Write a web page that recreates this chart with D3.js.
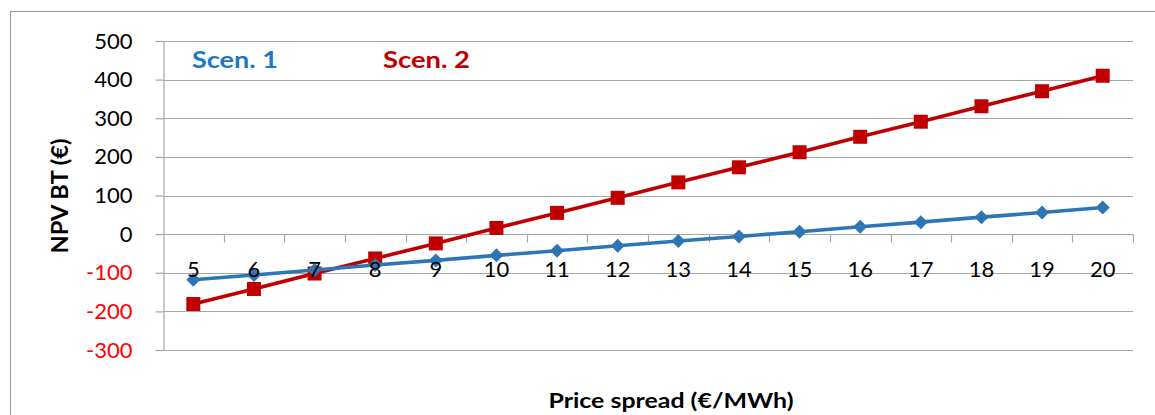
<!DOCTYPE html>
<html>
<head>
<meta charset="utf-8">
<script src="https://cdn.jsdelivr.net/npm/d3@7"></script>
<style>
  html, body { margin: 0; padding: 0; background: #fff; }
  svg { display: block; }
  text { font-family: Lato, "Open Sans", sans-serif; }
</style>
</head>
<body>
<svg id="chart" width="1155" height="415"></svg>
<script>
const categories = [5, 6, 7, 8, 9, 10, 11, 12, 13, 14, 15, 16, 17, 18, 19, 20];
const scen1 = [-118, -106, -93, -80, -68, -55, -43, -30, -18, -6, 6, 19, 31, 44, 56, 69];
const scen2 = [-181, -142, -102, -63, -24, 16, 55, 94, 134, 173, 212, 252, 291, 331, 370, 410];
const yTicks = [-300, -200, -100, 0, 100, 200, 300, 400, 500];
const seriesNames = ["Scen. 1", "Scen. 2"];
const xTitle = "Price spread (€/MWh)";
const yTitle = "NPV BT (€)";

const svg = d3.select("#chart");
const plotLeft = 163, plotRight = 1133, plotTop = 41, plotBottom = 350;
const grid = "#a6a6a6";

const x = d3.scaleBand().domain(categories).range([plotLeft, plotRight]).padding(0);
const y = d3.scaleLinear().domain([-300, 500]).range([plotBottom, plotTop]);
const cx = d => x(d) + x.bandwidth() / 2;

// outer chart border (top + left visible)
svg.append("rect").attr("x", 10.5).attr("y", 11.5).attr("width", 2000).attr("height", 1000)
  .attr("fill", "none").attr("stroke", "#a0a0a0").attr("stroke-width", 1.2);

// gridlines
svg.append("g").selectAll("line").data(yTicks).join("line")
  .attr("x1", plotLeft).attr("x2", plotRight)
  .attr("y1", d => Math.round(y(d)) + 0.5).attr("y2", d => Math.round(y(d)) + 0.5)
  .attr("stroke", grid).attr("stroke-width", 1.2);

// legend box
svg.append("rect").attr("x", 172).attr("y", 43).attr("width", 343).attr("height", 35)
  .attr("fill", "#fff");

// y axis
const yAxis = svg.append("g").attr("transform", `translate(${plotLeft + 0.5},0)`)
  .call(d3.axisLeft(y).tickValues(yTicks).tickSize(8).tickPadding(23).tickFormat(d => String(d)));
yAxis.select(".domain").attr("stroke", grid).attr("stroke-width", 1.2);
yAxis.selectAll(".tick line").attr("stroke", grid).attr("stroke-width", 1.2);
yAxis.selectAll(".tick text")
  .attr("font-family", "Lato, sans-serif").attr("font-size", 22)
  .attr("fill", d => d < 0 ? "#ff0000" : "#000");

// x axis line at zero with ticks at band boundaries
const y0 = Math.round(y(0)) + 0.5;
svg.append("line").attr("x1", plotLeft).attr("x2", plotRight).attr("y1", y0).attr("y2", y0)
  .attr("stroke", grid).attr("stroke-width", 1.2);
svg.append("g").selectAll("line").data(categories).join("line")
  .attr("x1", d => Math.round(x(d) + x.bandwidth()) + 0.5)
  .attr("x2", d => Math.round(x(d) + x.bandwidth()) + 0.5)
  .attr("y1", y0).attr("y2", y0 + 8)
  .attr("stroke", grid).attr("stroke-width", 1.2);

// series
const line = d3.line().x((d, i) => cx(categories[i])).y(d => y(d));
const series = [
  { name: seriesNames[0], values: scen1, color: "#2e75b6", marker: "diamond" },
  { name: seriesNames[1], values: scen2, color: "#c00000", marker: "square" }
];
const drawOrder = [series[1], series[0]];
drawOrder.forEach(s => {
  svg.append("path").datum(s.values).attr("d", line)
    .attr("fill", "none").attr("stroke", s.color).attr("stroke-width", 3.6)
    .attr("stroke-linejoin", "round");
  const g = svg.append("g");
  if (s.marker === "square") {
    g.selectAll("rect").data(s.values).join("rect")
      .attr("x", (d, i) => cx(categories[i]) - 7).attr("y", d => y(d) - 7)
      .attr("width", 14).attr("height", 14).attr("fill", s.color);
  } else {
    g.selectAll("path").data(s.values).join("path")
      .attr("d", d3.symbol(d3.symbolSquare, 98))
      .attr("transform", (d, i) => `translate(${cx(categories[i])},${y(d)}) rotate(45)`)
      .attr("fill", s.color);
  }
});

// x tick labels
svg.append("g").selectAll("text").data(categories).join("text")
  .attr("x", d => cx(d)).attr("y", 277)
  .attr("text-anchor", "middle").attr("font-size", 22).attr("fill", "#000")
  .text(d => d);

// legend text
const legendPos = [{ x: 192, w: 86, c: "#1f78c1" }, { x: 383, w: 87, c: "#c00000" }];
seriesNames.forEach((n, i) => {
  svg.append("text").attr("x", legendPos[i].x).attr("y", 68)
    .attr("font-size", 22).attr("font-weight", "bold").attr("fill", legendPos[i].c)
    .attr("textLength", legendPos[i].w).attr("lengthAdjust", "spacingAndGlyphs")
    .text(n);
});

// axis titles
svg.append("text").attr("x", 671).attr("y", 408).attr("text-anchor", "middle")
  .attr("font-size", 21).attr("font-weight", "bold").attr("fill", "#000")
  .attr("textLength", 245).attr("lengthAdjust", "spacingAndGlyphs")
  .text(xTitle);
svg.append("text").attr("transform", "translate(68,196) rotate(-90)").attr("text-anchor", "middle")
  .attr("font-size", 22).attr("font-weight", "bold").attr("fill", "#000")
  .attr("textLength", 115).attr("lengthAdjust", "spacingAndGlyphs")
  .text(yTitle);
</script>
</body>
</html>
